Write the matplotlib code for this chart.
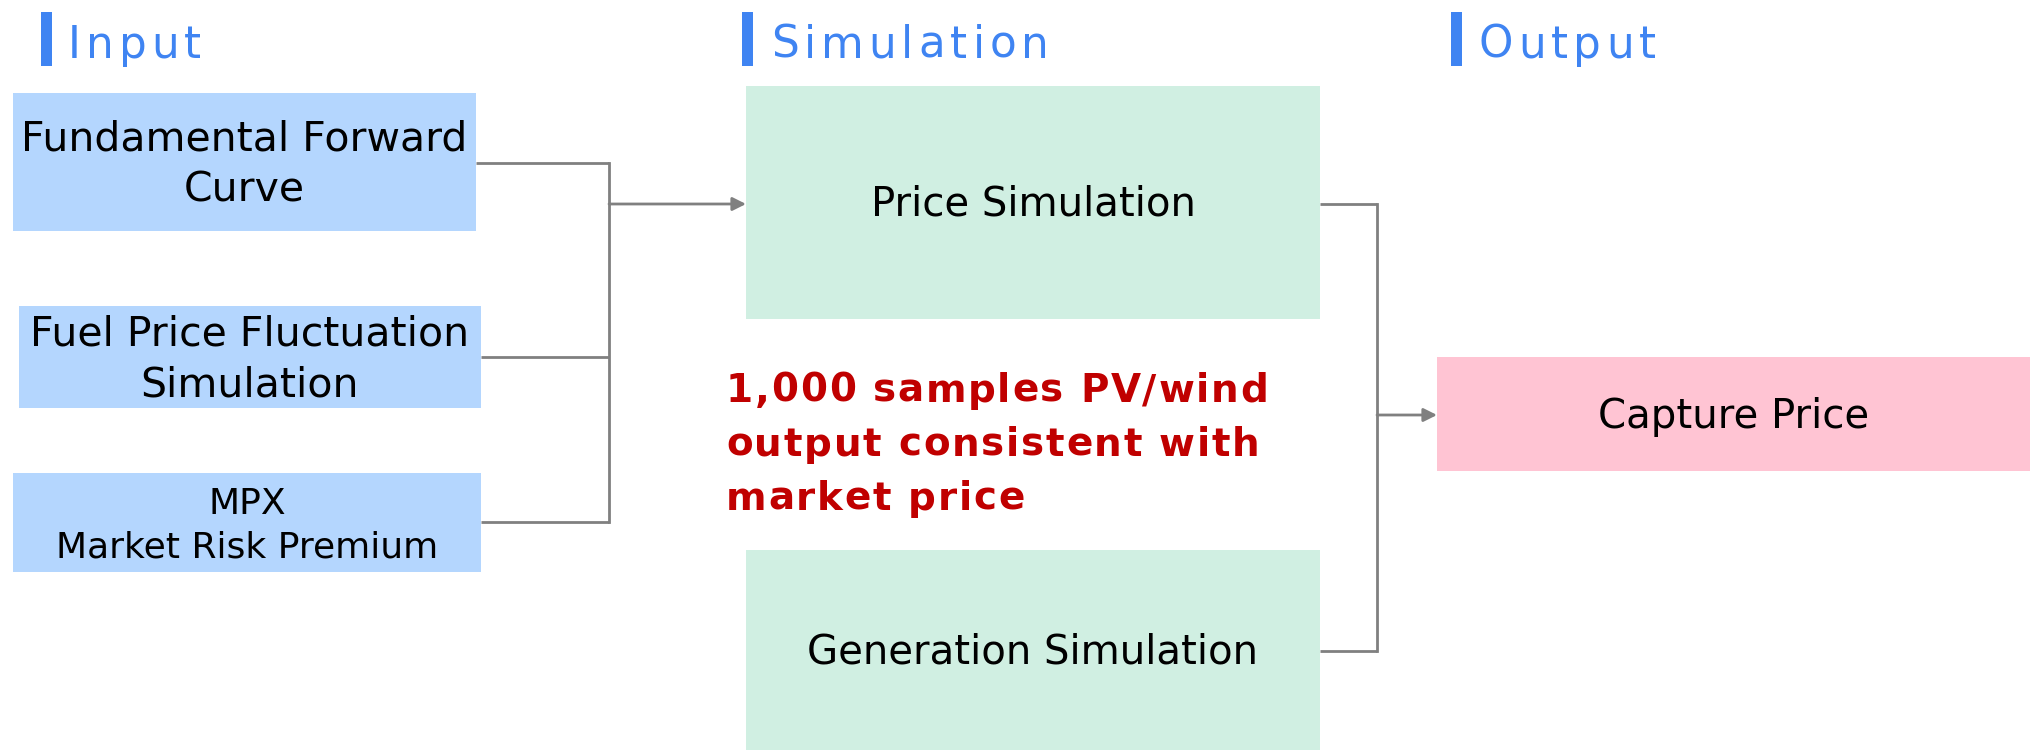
import matplotlib
matplotlib.use("Agg")
import matplotlib.pyplot as plt
from matplotlib.patches import Rectangle
from matplotlib.font_manager import FontProperties, findfont
from matplotlib.ft2font import FT2Font

# ---- content ----
section_titles = ["Input", "Simulation", "Output"]
input_labels = ["Fundamental Forward\nCurve", "Fuel Price Fluctuation\nSimulation", "MPX\nMarket Risk Premium"]
sim_labels = ["Price Simulation", "Generation Simulation"]
output_labels = ["Capture Price"]
note_lines = ["1,000 samples PV/wind", "output consistent with", "market price"]

# ---- styles ----
C_IN = "#B4D6FE"
C_SIM = "#D0EFE2"
C_OUT = "#FFC4D3"
C_TITLE = "#3F84F2"
C_RED = "#C00000"
C_LINE = "#808080"

W, H, DPI = 2033, 750, 100
fig = plt.figure(figsize=(W / DPI, H / DPI), dpi=DPI)
ax = fig.add_axes([0, 0, 1, 1])
ax.set_xlim(0, W)
ax.set_ylim(H, 0)
ax.axis("off")

def box(x0, y0, x1, y1, color):
    ax.add_patch(Rectangle((x0, y0), x1 - x0, y1 - y0, facecolor=color, edgecolor="none", zorder=1))

def spaced(x, y, s, size, spacing, color, weight="normal"):
    prop = FontProperties(family="DejaVu Sans", weight=weight, size=size)
    font = FT2Font(findfont(prop))
    font.set_size(size, DPI)
    cur = x
    for ch in s:
        ax.text(cur, y, ch, fontproperties=prop, color=color, ha="left", va="baseline", zorder=3)
        g = font.load_char(ord(ch))
        cur += g.linearHoriAdvance / 65536.0 + spacing

# ---- section titles ----
title_bar_x = [41, 742, 1451]
title_text_x = [68, 771, 1479]
for bx, tx, s in zip(title_bar_x, title_text_x, section_titles):
    ax.add_patch(Rectangle((bx, 12), 11, 54, facecolor=C_TITLE, edgecolor="none"))
    spaced(tx, 58, s, 31.5, 5, C_TITLE)

# ---- input boxes ----
in_boxes = [(13, 93, 476, 231), (19, 306, 481, 408), (13, 473, 481, 572)]
in_sizes = [29.5, 29.5, 26]
in_spacing = [1.36, 1.36, 1.36]
for (x0, y0, x1, y1), lab, fs, ls in zip(in_boxes, input_labels, in_sizes, in_spacing):
    box(x0, y0, x1, y1, C_IN)
    ax.text((x0 + x1) / 2, (y0 + y1) / 2 + 3, lab, ha="center", va="center", fontsize=fs,
            family="DejaVu Sans", linespacing=ls, color="black", zorder=3)

# ---- simulation boxes ----
sim_boxes = [(746, 86, 1320, 319), (746, 550, 1320, 760)]
sim_text_y = [205, 653]
for (x0, y0, x1, y1), lab, ty in zip(sim_boxes, sim_labels, sim_text_y):
    box(x0, y0, x1, y1, C_SIM)
    ax.text((x0 + x1) / 2, ty, lab, ha="center", va="center", fontsize=29,
            family="DejaVu Sans", color="black", zorder=3)

# ---- output box ----
out_box = (1437, 357, 2030, 471)
box(*out_box, C_OUT)
ax.text((out_box[0] + out_box[2]) / 2, (out_box[1] + out_box[3]) / 2 + 3, output_labels[0],
        ha="center", va="center", fontsize=29, family="DejaVu Sans", color="black", zorder=3)

# ---- note ----
note_baselines = [402, 456, 510]
for s, yb in zip(note_lines, note_baselines):
    spaced(726, yb, s, 28, 1.7, C_RED, weight="bold")

# ---- connectors ----
lw = 2.0
in_y = [163, 357, 522]
in_right = [476, 481, 481]
vx = 609
for xr, yy in zip(in_right, in_y):
    ax.plot([xr, vx], [yy, yy], color=C_LINE, lw=lw, solid_capstyle="butt", zorder=2)
ax.plot([vx, vx], [in_y[0], in_y[-1]], color=C_LINE, lw=lw, solid_capstyle="projecting", zorder=2)
ax.annotate("", xy=(746, 204), xytext=(vx, 204),
            arrowprops=dict(arrowstyle="-|>", color=C_LINE, lw=lw, mutation_scale=20,
                            shrinkA=0, shrinkB=0))

sim_y = [204, 651]
vx2 = 1377
for yy in sim_y:
    ax.plot([1320, vx2], [yy, yy], color=C_LINE, lw=lw, solid_capstyle="butt", zorder=2)
ax.plot([vx2, vx2], [sim_y[0], sim_y[1]], color=C_LINE, lw=lw, solid_capstyle="projecting", zorder=2)
ax.annotate("", xy=(1437, 415), xytext=(vx2, 415),
            arrowprops=dict(arrowstyle="-|>", color=C_LINE, lw=lw, mutation_scale=20,
                            shrinkA=0, shrinkB=0))

fig.savefig("out.png", dpi=DPI, facecolor="white")
